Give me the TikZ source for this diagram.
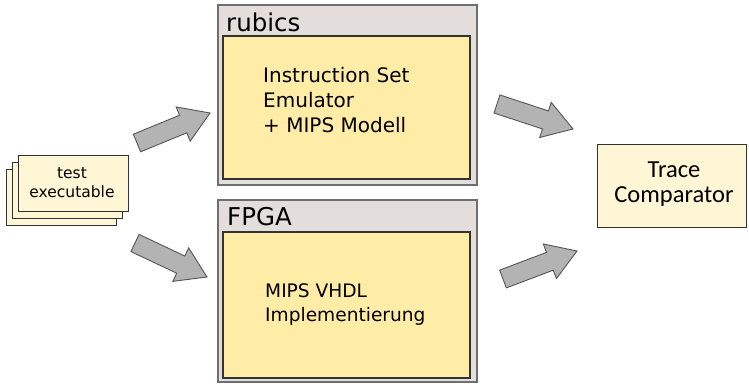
\documentclass[tikz,border=0pt]{standalone}
\usepackage{fontspec}
\setmainfont{DejaVu Sans}
\newfontfamily\tracefont{Carlito}
\usetikzlibrary{calc}

\definecolor{framefill}{HTML}{E3DEDB}
\definecolor{framedraw}{HTML}{6E6E6E}
\definecolor{corefill}{HTML}{FFECA6}
\definecolor{paperfill}{HTML}{FFF6D5}
\definecolor{edgedark}{HTML}{333333}
\definecolor{arrowfill}{HTML}{B3B3B3}
\definecolor{arrowdraw}{HTML}{555555}

\tikzset{
  framebox/.style={draw=framedraw, fill=framefill, line width=1.5pt, minimum width=259pt, inner sep=0pt},
  corebox/.style={draw=edgedark, fill=corefill, line width=1.2pt, minimum width=247pt, inner sep=0pt},
  paperbox/.style={draw=edgedark, fill=paperfill, line width=1pt, minimum width=110pt, minimum height=56pt, inner sep=0pt},
  tracebox/.style={draw=edgedark, fill=paperfill, line width=1pt, minimum width=149pt, minimum height=83pt, inner sep=0pt},
  titletext/.style={anchor=base west, inner sep=0pt, font=\fontsize{24.5}{29}\selectfont},
  bodytext/.style={anchor=base west, inner sep=0pt, align=left},
  blockarrow/.style={draw=arrowdraw, fill=arrowfill, line width=0.9pt, line join=miter},
}

% wide block arrow from a tail centre to a tip
\newcommand\fatarrow[2]{%
  \path ($(#2)!29pt!(#1)$) coordinate (fa-base);
  \draw[blockarrow]
    ($(#1)!9.5pt!90:(#2)$) -- ($(fa-base)!9.5pt!-90:(#1)$) --
    ($(fa-base)!18.5pt!-90:(#1)$) -- (#2) --
    ($(fa-base)!18.5pt!90:(#1)$) -- ($(fa-base)!9.5pt!90:(#1)$) --
    ($(#1)!9.5pt!-90:(#2)$) -- cycle;}

\begin{document}
\begin{tikzpicture}[x=1pt, y=-1pt]
  \useasboundingbox (0,0) rectangle (749,383);

  % stack of test programs
  \node[paperbox] (exe3) at (61,197) {};
  \node[paperbox] (exe2) at (67,190) {};
  \node[paperbox] (exe1) at (73,183) {};
  \node[anchor=base, inner sep=0pt, font=\fontsize{15.5}{19}\selectfont] (exetop) at (72,178) {test};
  \node[anchor=base, inner sep=0pt, font=\fontsize{15.5}{19}\selectfont] (exebot) at (72,197) {executable};

  % emulator
  \node[framebox, minimum height=180pt] (rubics) at (347.5,95) {};
  \node[corebox, minimum height=143pt] (rubicscore) at (346.5,107.5) {};
  \node[titletext] (rubicstitle) at (226,31) {rubics};
  % multi-line nodes sit on the baseline of their last line
  \node[bodytext, font=\fontsize{20}{25}\selectfont] (rubicstext) at (263,132)
    {Instruction Set\\Emulator\\+ MIPS Modell};

  % hardware
  \node[framebox, minimum height=182pt] (fpga) at (347.5,291) {};
  \node[corebox, minimum height=146pt] (fpgacore) at (346.5,305) {};
  \node[titletext] (fpgatitle) at (227,225) {FPGA};
  \node[bodytext, font=\fontsize{18.6}{24}\selectfont] (fpgatext) at (265,321)
    {MIPS VHDL\\Implementierung};

  % comparator
  \node[tracebox] (trace) at (671.5,185.5) {};
  \node[anchor=base, inner sep=0pt, font=\tracefont\fontsize{24.5}{29}\selectfont] (tracetop) at (674,177) {Trace};
  \node[anchor=base, inner sep=0pt, font=\tracefont\fontsize{24.5}{29}\selectfont] (tracebot) at (674,202) {Comparator};

  % arrow end points
  \coordinate (a1t) at (137,143); \coordinate (a1h) at (210,113);
  \coordinate (a2t) at (135,243); \coordinate (a2h) at (207,277);
  \coordinate (a3t) at (497,104); \coordinate (a3h) at (573,129);
  \coordinate (a4t) at (503,279); \coordinate (a4h) at (577,251);

  \fatarrow{a1t}{a1h}
  \fatarrow{a2t}{a2h}
  \fatarrow{a3t}{a3h}
  \fatarrow{a4t}{a4h}
\end{tikzpicture}
\end{document}
